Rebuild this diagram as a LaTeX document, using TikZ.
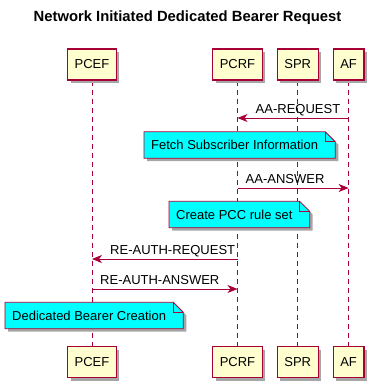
\documentclass[tikz,border=0pt]{standalone}
\usepackage{fontspec}
\setmainfont{Liberation Sans}
\usetikzlibrary{arrows.meta, positioning, calc, shadows, backgrounds}
\definecolor{colorBorde}{HTML}{A80036}
\definecolor{fondoCaja}{HTML}{FEFECE}
\definecolor{fondoNota}{HTML}{00FFFF}

\begin{document}
\begin{tikzpicture}[x=1pt, y=-1pt,
        node distance=14pt,
        p/.style={draw=colorBorde, fill=fondoCaja, line width=1.2pt, minimum height=31pt,
            inner xsep=7pt, font=\fontsize{13}{15}\selectfont,
            drop shadow={shadow xshift=3pt, shadow yshift=-3pt, fill=black!35, opacity=1}},
        nota/.style={inner xsep=7pt, minimum height=26pt, anchor=west, font=\fontsize{13}{15}\selectfont},
        notaborde/.style={draw=colorBorde, fill=fondoNota, line width=0.8pt,
            preaction={fill=black!35, transform canvas={xshift=3pt, yshift=-3pt}}},
        vida/.style={colorBorde, line width=0.8pt, dash pattern=on 5pt off 4pt},
        msg/.style={-{Stealth[length=10pt, width=8pt, inset=3pt]}, colorBorde, line width=0.8pt},
        etq/.style={anchor=base west, inner sep=0pt, font=\fontsize{13}{15}\selectfont}
    ]
        \useasboundingbox (0,0) rectangle (374,384);
        \node[anchor=base, font=\bfseries\fontsize{14.8}{17}\selectfont] (titulo) at (187.5,21)
            {Network Initiated Dedicated Bearer Request};
        % participantes
        \node[p] (pcef) at (92,64.5) {PCEF};
        \node[p] (pcrf) at (237.5,64.5) {PCRF};
        \node[p, right=of pcrf] (spr) {SPR};
        \node[p, right=of spr] (af) {AF};
        \foreach \n/\t in {pcef/PCEF, pcrf/PCRF, spr/SPR, af/AF}
            \node[p] (\n B) at (\n |- 0,362) {\t};
        % mensajes
        \draw[msg] (af |- 0,118) -- (pcrf |- 0,118);
        \node[etq] (m1) at ($(pcrf |- 0,113)+(18,0)$) {AA-REQUEST};
        \node[nota] (fetch) at (144,145) {Fetch Subscriber Information};
        \draw[msg] (pcrf |- 0,188) -- (af |- 0,188);
        \node[etq] (m2) at ($(pcrf |- 0,183)+(8,0)$) {AA-ANSWER};
        \node[nota] (pcc) at (169,214.5) {Create PCC rule set};
        \draw[msg] (pcrf |- 0,259) -- (pcef |- 0,259);
        \node[etq] (m3) at ($(pcef |- 0,254)+(18,0)$) {RE-AUTH-REQUEST};
        \draw[msg] (pcef |- 0,289) -- (pcrf |- 0,289);
        \node[etq] (m4) at ($(pcef |- 0,284)+(8,0)$) {RE-AUTH-ANSWER};
        \node[nota] (bearer) at (5,315.5) {Dedicated Bearer Creation};
        \begin{scope}[on background layer]
            \foreach \n in {pcef,pcrf,spr,af}
                \draw[vida] (\n.south) -- (\n B.north);
            \foreach \n in {fetch,pcc,bearer} {
                \path[notaborde] (\n.north west) -- (\n.north east) -- ($(\n.north east)+(10,10)$)
                    -- ($(\n.south east)+(10,0)$) -- (\n.south west) -- cycle;
                \draw[colorBorde, line width=0.8pt] (\n.north east) -- ($(\n.north east)+(0,10)$)
                    -- ($(\n.north east)+(10,10)$);
            }
        \end{scope}
    \end{tikzpicture}
\end{document}
